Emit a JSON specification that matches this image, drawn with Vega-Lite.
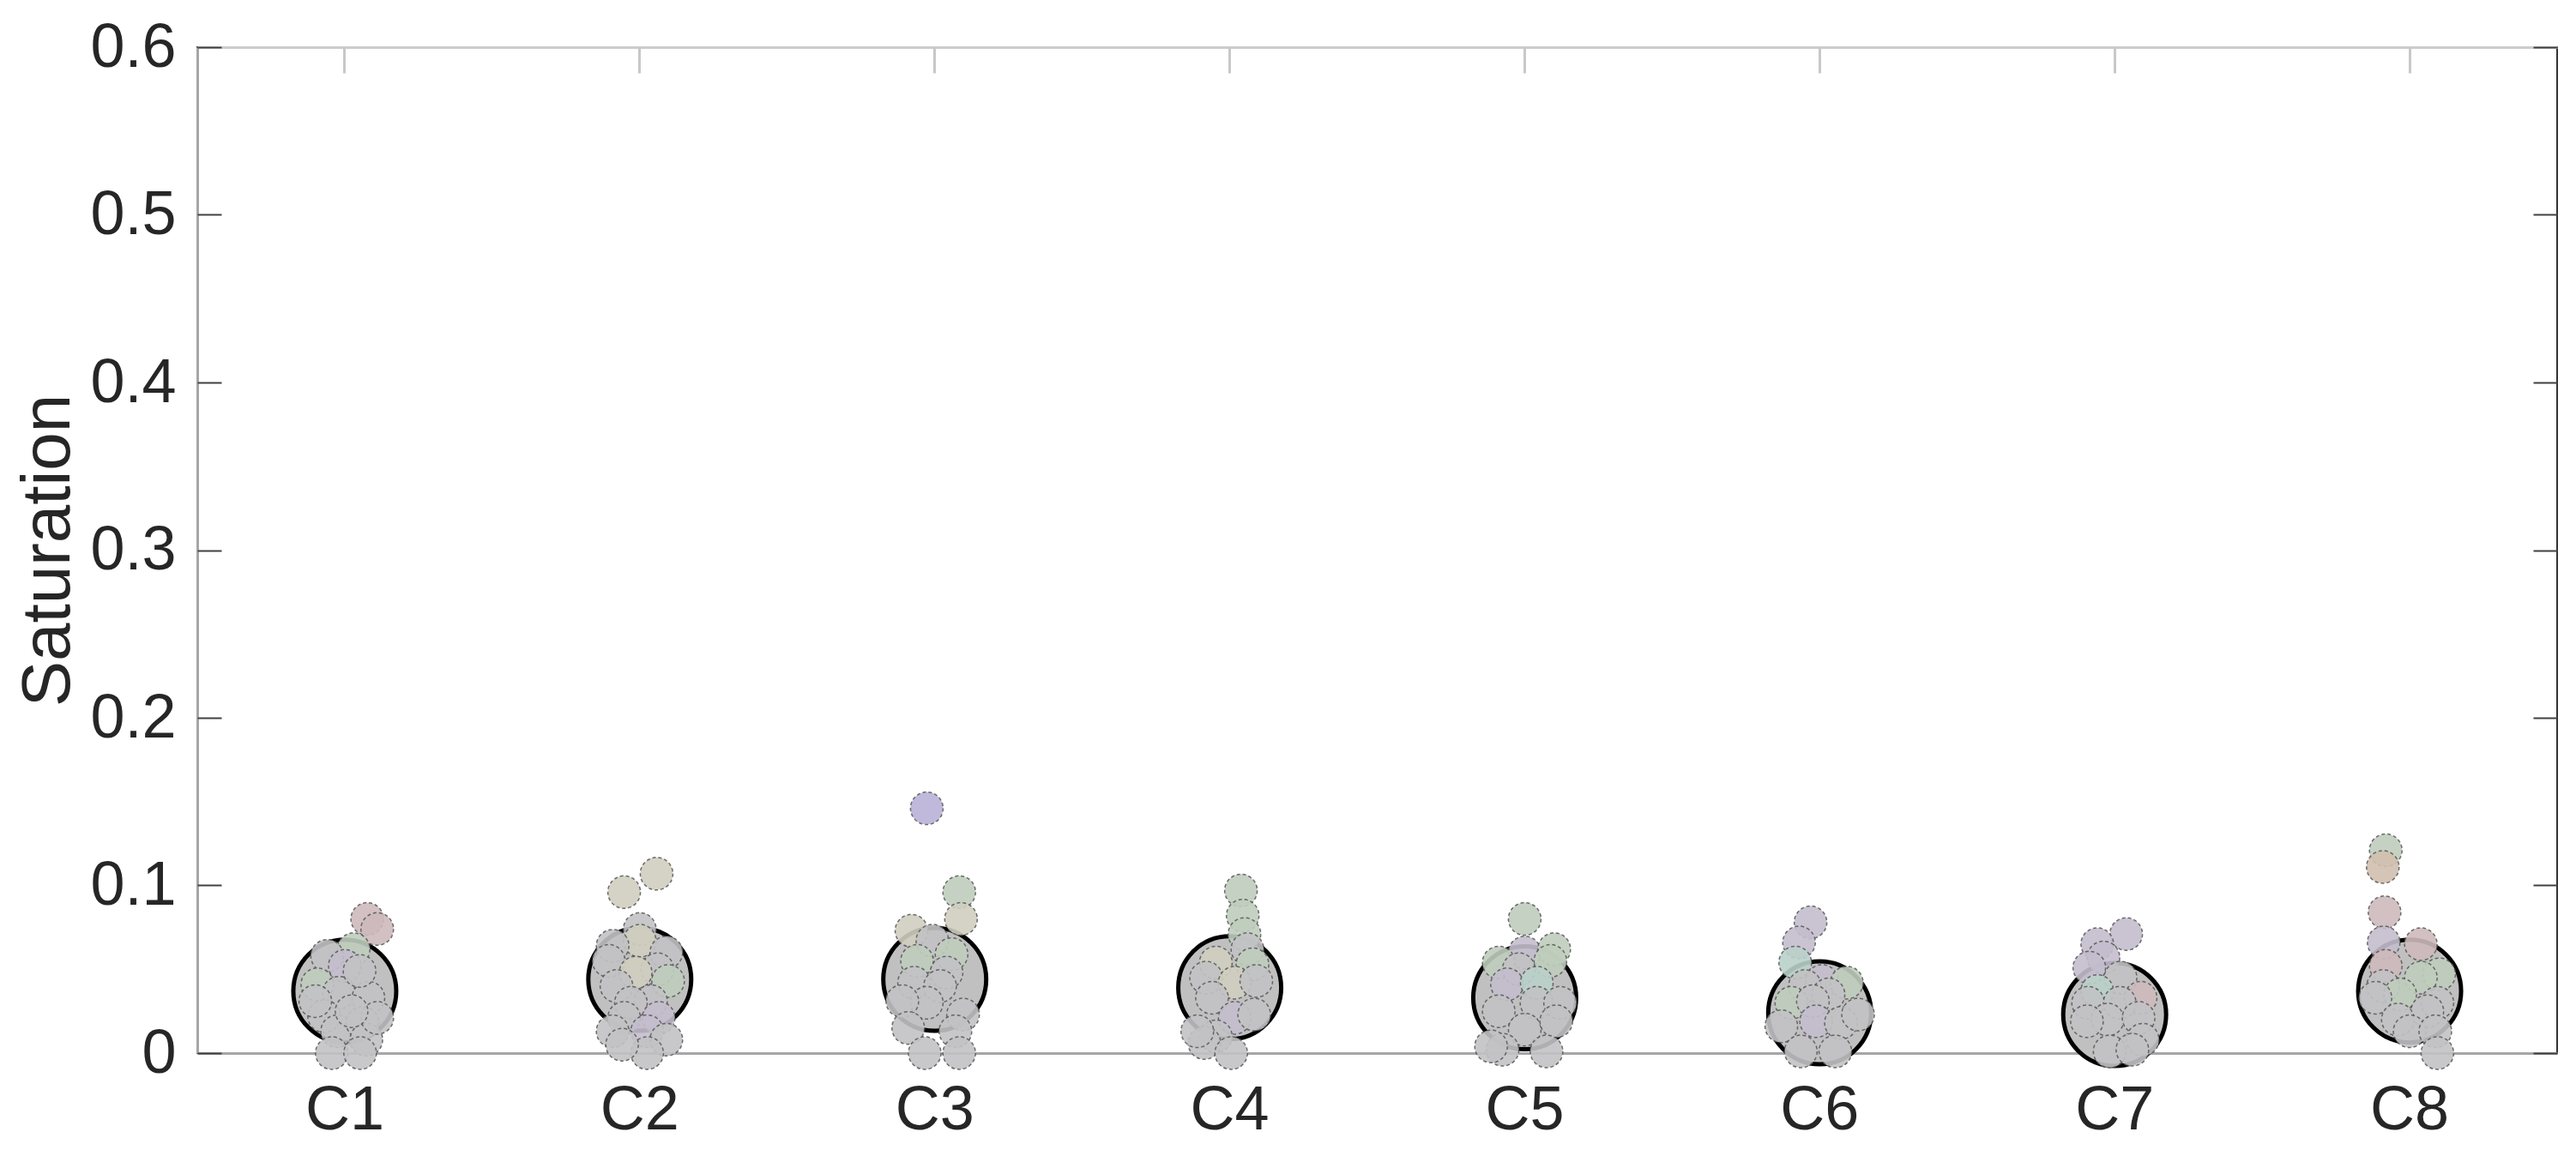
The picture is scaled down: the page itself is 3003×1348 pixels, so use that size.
{
  "$schema": "https://vega.github.io/schema/vega-lite/v6.json",
  "width": 2751,
  "height": 1173,
  "autosize": {"type": "none"},
  "padding": {"left": 230, "top": 55, "right": 22, "bottom": 120},
  "background": "white",
  "config": {"view": {"stroke": "#333333", "strokeWidth": 2}, "font": "Liberation Sans"},
  "datasets": {
    "means": [
      {"cluster": "C1", "saturation": 0.037},
      {"cluster": "C2", "saturation": 0.044},
      {"cluster": "C3", "saturation": 0.044},
      {"cluster": "C4", "saturation": 0.039},
      {"cluster": "C5", "saturation": 0.033},
      {"cluster": "C6", "saturation": 0.024},
      {"cluster": "C7", "saturation": 0.023},
      {"cluster": "C8", "saturation": 0.037}
    ],
    "points": [
      {"cluster": "C1", "jitter": 0.076, "saturation": 0.080, "hue": "pink"},
      {"cluster": "C1", "jitter": 0.110, "saturation": 0.074, "hue": "pink"},
      {"cluster": "C1", "jitter": 0.030, "saturation": 0.062, "hue": "green"},
      {"cluster": "C1", "jitter": -0.060, "saturation": 0.058, "hue": "gray"},
      {"cluster": "C1", "jitter": 0.000, "saturation": 0.052, "hue": "lilac"},
      {"cluster": "C1", "jitter": -0.093, "saturation": 0.041, "hue": "green"},
      {"cluster": "C1", "jitter": -0.020, "saturation": 0.036, "hue": "gray"},
      {"cluster": "C1", "jitter": 0.080, "saturation": 0.033, "hue": "gray"},
      {"cluster": "C1", "jitter": 0.050, "saturation": 0.049, "hue": "gray"},
      {"cluster": "C1", "jitter": -0.070, "saturation": 0.022, "hue": "gray"},
      {"cluster": "C1", "jitter": -0.026, "saturation": 0.013, "hue": "gray"},
      {"cluster": "C1", "jitter": 0.060, "saturation": 0.018, "hue": "gray"},
      {"cluster": "C1", "jitter": 0.073, "saturation": 0.008, "hue": "gray"},
      {"cluster": "C1", "jitter": -0.044, "saturation": 0.000, "hue": "gray"},
      {"cluster": "C1", "jitter": 0.052, "saturation": 0.000, "hue": "gray"},
      {"cluster": "C1", "jitter": 0.110, "saturation": 0.021, "hue": "gray"},
      {"cluster": "C1", "jitter": -0.100, "saturation": 0.031, "hue": "gray"},
      {"cluster": "C1", "jitter": 0.023, "saturation": 0.025, "hue": "gray"},
      {"cluster": "C2", "jitter": 0.057, "saturation": 0.107, "hue": "beige"},
      {"cluster": "C2", "jitter": -0.053, "saturation": 0.096, "hue": "beige"},
      {"cluster": "C2", "jitter": 0.000, "saturation": 0.074, "hue": "gray"},
      {"cluster": "C2", "jitter": 0.000, "saturation": 0.067, "hue": "beige"},
      {"cluster": "C2", "jitter": -0.092, "saturation": 0.064, "hue": "gray"},
      {"cluster": "C2", "jitter": 0.090, "saturation": 0.060, "hue": "gray"},
      {"cluster": "C2", "jitter": -0.105, "saturation": 0.055, "hue": "gray"},
      {"cluster": "C2", "jitter": 0.060, "saturation": 0.050, "hue": "gray"},
      {"cluster": "C2", "jitter": -0.014, "saturation": 0.048, "hue": "beige"},
      {"cluster": "C2", "jitter": 0.096, "saturation": 0.043, "hue": "green"},
      {"cluster": "C2", "jitter": -0.079, "saturation": 0.040, "hue": "gray"},
      {"cluster": "C2", "jitter": 0.038, "saturation": 0.031, "hue": "gray"},
      {"cluster": "C2", "jitter": -0.030, "saturation": 0.030, "hue": "gray"},
      {"cluster": "C2", "jitter": -0.053, "saturation": 0.021, "hue": "gray"},
      {"cluster": "C2", "jitter": 0.064, "saturation": 0.021, "hue": "lilac"},
      {"cluster": "C2", "jitter": -0.092, "saturation": 0.013, "hue": "gray"},
      {"cluster": "C2", "jitter": 0.025, "saturation": 0.013, "hue": "lilac"},
      {"cluster": "C2", "jitter": 0.090, "saturation": 0.008, "hue": "gray"},
      {"cluster": "C2", "jitter": 0.025, "saturation": 0.000, "hue": "gray"},
      {"cluster": "C2", "jitter": -0.060, "saturation": 0.005, "hue": "gray"},
      {"cluster": "C3", "jitter": -0.027, "saturation": 0.146, "hue": "purple"},
      {"cluster": "C3", "jitter": 0.083, "saturation": 0.096, "hue": "green"},
      {"cluster": "C3", "jitter": 0.089, "saturation": 0.080, "hue": "beige"},
      {"cluster": "C3", "jitter": -0.079, "saturation": 0.073, "hue": "beige"},
      {"cluster": "C3", "jitter": -0.008, "saturation": 0.067, "hue": "gray"},
      {"cluster": "C3", "jitter": -0.060, "saturation": 0.055, "hue": "green"},
      {"cluster": "C3", "jitter": 0.057, "saturation": 0.059, "hue": "green"},
      {"cluster": "C3", "jitter": 0.040, "saturation": 0.048, "hue": "gray"},
      {"cluster": "C3", "jitter": -0.070, "saturation": 0.042, "hue": "gray"},
      {"cluster": "C3", "jitter": 0.018, "saturation": 0.040, "hue": "gray"},
      {"cluster": "C3", "jitter": -0.027, "saturation": 0.030, "hue": "gray"},
      {"cluster": "C3", "jitter": -0.110, "saturation": 0.031, "hue": "gray"},
      {"cluster": "C3", "jitter": 0.096, "saturation": 0.023, "hue": "gray"},
      {"cluster": "C3", "jitter": -0.090, "saturation": 0.015, "hue": "gray"},
      {"cluster": "C3", "jitter": 0.070, "saturation": 0.013, "hue": "gray"},
      {"cluster": "C3", "jitter": -0.034, "saturation": 0.000, "hue": "gray"},
      {"cluster": "C3", "jitter": 0.083, "saturation": 0.000, "hue": "gray"},
      {"cluster": "C4", "jitter": 0.038, "saturation": 0.097, "hue": "green"},
      {"cluster": "C4", "jitter": 0.044, "saturation": 0.082, "hue": "green"},
      {"cluster": "C4", "jitter": 0.050, "saturation": 0.071, "hue": "green"},
      {"cluster": "C4", "jitter": 0.060, "saturation": 0.062, "hue": "gray"},
      {"cluster": "C4", "jitter": -0.047, "saturation": 0.054, "hue": "beige"},
      {"cluster": "C4", "jitter": 0.077, "saturation": 0.053, "hue": "green"},
      {"cluster": "C4", "jitter": -0.080, "saturation": 0.045, "hue": "gray"},
      {"cluster": "C4", "jitter": 0.017, "saturation": 0.042, "hue": "beige"},
      {"cluster": "C4", "jitter": 0.090, "saturation": 0.043, "hue": "gray"},
      {"cluster": "C4", "jitter": -0.060, "saturation": 0.033, "hue": "gray"},
      {"cluster": "C4", "jitter": 0.017, "saturation": 0.021, "hue": "lilac"},
      {"cluster": "C4", "jitter": 0.083, "saturation": 0.023, "hue": "gray"},
      {"cluster": "C4", "jitter": -0.047, "saturation": 0.010, "hue": "gray"},
      {"cluster": "C4", "jitter": -0.086, "saturation": 0.006, "hue": "gray"},
      {"cluster": "C4", "jitter": 0.005, "saturation": 0.000, "hue": "gray"},
      {"cluster": "C4", "jitter": -0.110, "saturation": 0.013, "hue": "gray"},
      {"cluster": "C5", "jitter": 0.000, "saturation": 0.080, "hue": "green"},
      {"cluster": "C5", "jitter": 0.000, "saturation": 0.060, "hue": "lilac"},
      {"cluster": "C5", "jitter": 0.100, "saturation": 0.062, "hue": "green"},
      {"cluster": "C5", "jitter": -0.088, "saturation": 0.054, "hue": "green"},
      {"cluster": "C5", "jitter": 0.087, "saturation": 0.055, "hue": "green"},
      {"cluster": "C5", "jitter": -0.020, "saturation": 0.050, "hue": "gray"},
      {"cluster": "C5", "jitter": -0.060, "saturation": 0.041, "hue": "lilac"},
      {"cluster": "C5", "jitter": 0.041, "saturation": 0.042, "hue": "teal"},
      {"cluster": "C5", "jitter": -0.088, "saturation": 0.025, "hue": "gray"},
      {"cluster": "C5", "jitter": 0.040, "saturation": 0.030, "hue": "gray"},
      {"cluster": "C5", "jitter": 0.120, "saturation": 0.030, "hue": "gray"},
      {"cluster": "C5", "jitter": 0.000, "saturation": 0.014, "hue": "gray"},
      {"cluster": "C5", "jitter": 0.107, "saturation": 0.019, "hue": "gray"},
      {"cluster": "C5", "jitter": -0.075, "saturation": 0.002, "hue": "gray"},
      {"cluster": "C5", "jitter": 0.074, "saturation": 0.001, "hue": "gray"},
      {"cluster": "C5", "jitter": -0.114, "saturation": 0.004, "hue": "gray"},
      {"cluster": "C6", "jitter": -0.031, "saturation": 0.078, "hue": "lilac"},
      {"cluster": "C6", "jitter": -0.070, "saturation": 0.066, "hue": "lilac"},
      {"cluster": "C6", "jitter": -0.083, "saturation": 0.054, "hue": "teal"},
      {"cluster": "C6", "jitter": 0.008, "saturation": 0.043, "hue": "lilac"},
      {"cluster": "C6", "jitter": 0.092, "saturation": 0.042, "hue": "green"},
      {"cluster": "C6", "jitter": -0.050, "saturation": 0.040, "hue": "gray"},
      {"cluster": "C6", "jitter": 0.030, "saturation": 0.035, "hue": "gray"},
      {"cluster": "C6", "jitter": -0.096, "saturation": 0.030, "hue": "green"},
      {"cluster": "C6", "jitter": -0.023, "saturation": 0.031, "hue": "gray"},
      {"cluster": "C6", "jitter": -0.012, "saturation": 0.019, "hue": "lilac"},
      {"cluster": "C6", "jitter": 0.072, "saturation": 0.018, "hue": "gray"},
      {"cluster": "C6", "jitter": 0.130, "saturation": 0.023, "hue": "gray"},
      {"cluster": "C6", "jitter": -0.130, "saturation": 0.016, "hue": "gray"},
      {"cluster": "C6", "jitter": -0.064, "saturation": 0.001, "hue": "gray"},
      {"cluster": "C6", "jitter": 0.053, "saturation": 0.001, "hue": "gray"},
      {"cluster": "C7", "jitter": 0.039, "saturation": 0.071, "hue": "lilac"},
      {"cluster": "C7", "jitter": -0.059, "saturation": 0.065, "hue": "lilac"},
      {"cluster": "C7", "jitter": -0.038, "saturation": 0.057, "hue": "lilac"},
      {"cluster": "C7", "jitter": -0.086, "saturation": 0.051, "hue": "lilac"},
      {"cluster": "C7", "jitter": 0.020, "saturation": 0.045, "hue": "gray"},
      {"cluster": "C7", "jitter": -0.059, "saturation": 0.037, "hue": "teal"},
      {"cluster": "C7", "jitter": 0.088, "saturation": 0.033, "hue": "pink"},
      {"cluster": "C7", "jitter": -0.090, "saturation": 0.030, "hue": "gray"},
      {"cluster": "C7", "jitter": 0.017, "saturation": 0.030, "hue": "gray"},
      {"cluster": "C7", "jitter": -0.024, "saturation": 0.020, "hue": "gray"},
      {"cluster": "C7", "jitter": 0.081, "saturation": 0.021, "hue": "gray"},
      {"cluster": "C7", "jitter": -0.094, "saturation": 0.019, "hue": "gray"},
      {"cluster": "C7", "jitter": 0.095, "saturation": 0.008, "hue": "gray"},
      {"cluster": "C7", "jitter": -0.017, "saturation": 0.001, "hue": "gray"},
      {"cluster": "C7", "jitter": 0.060, "saturation": 0.002, "hue": "gray"},
      {"cluster": "C8", "jitter": -0.081, "saturation": 0.121, "hue": "green"},
      {"cluster": "C8", "jitter": -0.091, "saturation": 0.111, "hue": "tan"},
      {"cluster": "C8", "jitter": -0.085, "saturation": 0.084, "hue": "pink"},
      {"cluster": "C8", "jitter": -0.088, "saturation": 0.066, "hue": "lilac"},
      {"cluster": "C8", "jitter": 0.038, "saturation": 0.065, "hue": "pink"},
      {"cluster": "C8", "jitter": -0.081, "saturation": 0.052, "hue": "pink"},
      {"cluster": "C8", "jitter": 0.100, "saturation": 0.047, "hue": "green"},
      {"cluster": "C8", "jitter": 0.038, "saturation": 0.045, "hue": "green"},
      {"cluster": "C8", "jitter": -0.090, "saturation": 0.040, "hue": "gray"},
      {"cluster": "C8", "jitter": -0.032, "saturation": 0.035, "hue": "green"},
      {"cluster": "C8", "jitter": 0.094, "saturation": 0.030, "hue": "gray"},
      {"cluster": "C8", "jitter": -0.116, "saturation": 0.033, "hue": "gray"},
      {"cluster": "C8", "jitter": 0.060, "saturation": 0.025, "hue": "gray"},
      {"cluster": "C8", "jitter": -0.040, "saturation": 0.020, "hue": "gray"},
      {"cluster": "C8", "jitter": 0.000, "saturation": 0.013, "hue": "gray"},
      {"cluster": "C8", "jitter": 0.087, "saturation": 0.013, "hue": "gray"},
      {"cluster": "C8", "jitter": 0.094, "saturation": 0.000, "hue": "gray"}
    ]
  },
  "resolve": {"axis": {"x": "independent", "y": "independent"}},
  "layer": [
    {
      "data": {"name": "means"},
      "mark": {"type": "circle", "size": 14400, "fill": "#c0c0c0", "opacity": 1, "clip": false},
      "encoding": {
        "x": {
          "field": "cluster", "type": "nominal", "sort": null,
          "scale": {"domain": ["C1", "C2", "C3", "C4", "C5", "C6", "C7", "C8"], "paddingInner": 0, "paddingOuter": 0},
          "axis": {"orient": "bottom", "title": null, "ticks": false, "tickSize": 0, "labelFontSize": 72, "labelColor": "#262626", "labelPadding": 31, "labelAngle": 0, "domainColor": "#a6a6a6", "domainWidth": 3, "grid": false}
        },
        "y": {
          "field": "saturation", "type": "quantitative",
          "scale": {"domain": [0, 0.6], "nice": false, "zero": true},
          "axis": {
            "orient": "left", "title": "Saturation",
            "values": [0, 0.1, 0.2, 0.3, 0.4, 0.5, 0.6],
            "labelExpr": "datum.value == 0 ? '0' : format(datum.value, '.1f')",
            "ticks": false, "tickSize": 0,
            "labelFontSize": 72, "labelColor": "#262626", "labelPadding": 25,
            "domainColor": "#a6a6a6", "domainWidth": 3, "grid": false,
            "titleFontSize": 80, "titleFontWeight": "normal", "titleColor": "#262626",
            "titleX": -150, "titleY": 586.5, "titleAngle": -90, "titleBaseline": "alphabetic", "titleAlign": "center"
          }
        }
      }
    },
    {
      "data": {"name": "means"},
      "mark": {"type": "point", "shape": "circle", "size": 14400, "filled": false, "stroke": "#000000", "strokeWidth": 5, "opacity": 1, "clip": false},
      "encoding": {
        "x": {
          "field": "cluster", "type": "nominal", "sort": null,
          "axis": {"orient": "top", "title": null, "labels": false, "ticks": false, "domainColor": "#cccccc", "domainWidth": 3, "grid": false}
        },
        "y": {
          "field": "saturation", "type": "quantitative",
          "axis": {"orient": "right", "title": null, "labels": false, "values": [0, 0.1, 0.2, 0.3, 0.4, 0.5, 0.6], "ticks": true, "tickSize": 28, "tickColor": "#404040", "tickWidth": 2, "offset": -28, "domain": false, "grid": false}
        }
      }
    },
    {
      "data": {"name": "points"},
      "mark": {"type": "circle", "size": 1444, "opacity": 1, "fillOpacity": 0.9, "stroke": "#555555", "strokeWidth": 1.5, "strokeDash": [4, 3], "strokeOpacity": 0.85, "clip": false},
      "encoding": {
        "x": {
          "field": "cluster", "type": "nominal", "sort": null,
          "axis": {"orient": "top", "title": null, "labels": false, "bandPosition": 0.5, "tickSize": 30, "tickColor": "#c8c8c8", "tickWidth": 3, "offset": -30, "domain": false, "grid": false}
        },
        "xOffset": {"field": "jitter", "type": "quantitative", "scale": {"domain": [-0.5, 0.5]}},
        "y": {
          "field": "saturation", "type": "quantitative",
          "axis": {"orient": "left", "title": null, "labels": false, "values": [0, 0.1, 0.2, 0.3, 0.4, 0.5, 0.6], "tickSize": 28, "tickColor": "#404040", "tickWidth": 2, "offset": -28, "domain": false, "grid": false}
        },
        "color": {
          "field": "hue", "type": "nominal", "legend": null,
          "scale": {
            "domain": ["gray", "pink", "lilac", "purple", "green", "beige", "teal", "tan"],
            "range": ["#c2c2c4", "#cdb9bb", "#c3bccd", "#b9b1d8", "#bfcdbd", "#cfcebf", "#bad0ca", "#d0bfae"]
          }
        }
      }
    }
  ]
}
